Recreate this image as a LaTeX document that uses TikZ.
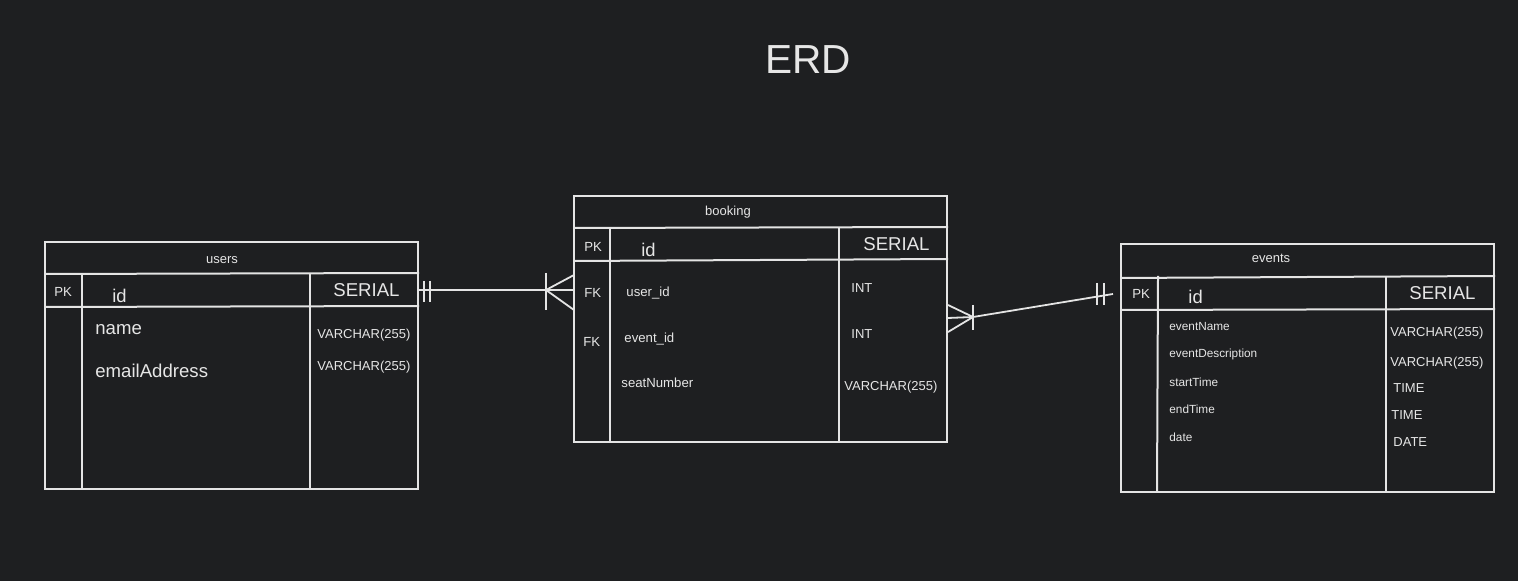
\documentclass[tikz,border=0pt]{standalone}
\usepackage{fontspec}
\setmainfont{Liberation Sans}
\usetikzlibrary{fit}
\definecolor{bgc}{HTML}{1E1F21}
\definecolor{lnc}{HTML}{E4E4E4}
\definecolor{txc}{HTML}{E6E6E6}
\tikzset{
  tbl/.style={draw=lnc, line width=1pt, inner sep=0pt},
  ln/.style={draw=lnc, line width=1pt},
  conn/.style={draw=lnc, line width=0.9pt},
  tx/.style={text=txc, inner sep=0pt, anchor=base west},
  txc/.style={text=txc, inner sep=0pt, anchor=base},
  fhead/.style={font=\fontsize{6.5}{7}\selectfont},
  fpk/.style={font=\fontsize{6.6}{7}\selectfont},
  fid/.style={font=\fontsize{9.2}{10}\selectfont},
  fser/.style={font=\fontsize{9.3}{10}\selectfont},
  fname/.style={font=\fontsize{9.3}{10}\selectfont},
  fsm/.style={font=\fontsize{6.6}{7}\selectfont},
  fev/.style={font=\fontsize{5.9}{6.5}\selectfont},
  ftype/.style={font=\fontsize{6.5}{7}\selectfont},
}
\begin{document}
\begin{tikzpicture}[x=0.5pt, y=-0.5pt]
\fill[bgc] (0,0) rectangle (1518,581);
\useasboundingbox (0,0) rectangle (1518,581);

% title
\node[txc, font=\fontsize{20.3}{22}\selectfont] (title) at (808,74) {ERD};

% ---------- users ----------
\node[tbl, fit={(45,242) (418,489)}] (users) {};
\draw[ln] (45,274) -- (419,273);
\draw[ln] (45,307) -- (419,306);
\draw[ln] (82,274) -- (82,489);
\draw[ln] (310,273) -- (310,489);
\node[txc, fhead] (usersT) at (222,264) {users};
\node[tx, fpk] (uPK) at (54,297) {PK};
\node[tx, fid] (uid) at (112,303) {id};
\node[tx, fser] (user) at (333,297) {SERIAL};
\node[tx, fname] (uname) at (95,335) {name};
\node[tx, fname] (umail) at (95,378) {emailAddress};
\node[tx, ftype] (ut1) at (317,339) {VARCHAR(255)};
\node[tx, ftype] (ut2) at (317,371) {VARCHAR(255)};

% ---------- booking ----------
\node[tbl, fit={(574,196) (947,442)}] (booking) {};
\draw[ln] (574,228) -- (948,227);
\draw[ln] (574,261) -- (948,259);
\draw[ln] (610,228) -- (610,442);
\draw[ln] (839,227) -- (839,442);
\node[txc, fhead] (bookingT) at (728,216) {booking};
\node[tx, fpk] (bPK) at (584,252) {PK};
\node[tx, fid] (bid) at (641,257) {id};
\node[tx, fser] (bser) at (863,251) {SERIAL};
\node[tx, fsm] (bFK1) at (584,298) {FK};
\node[tx, fsm] (buid) at (626,297) {user\_id};
\node[tx, fsm] (bFK2) at (583,347) {FK};
\node[tx, fsm] (beid) at (624,343) {event\_id};
\node[tx, fsm] (bseat) at (621,388) {seatNumber};
\node[tx, ftype] (bt1) at (851,293) {INT};
\node[tx, ftype] (bt2) at (851,339) {INT};
\node[tx, ftype] (bt3) at (844,391) {VARCHAR(255)};

% ---------- events ----------
\node[tbl, fit={(1121,244) (1494,492)}] (events) {};
\draw[ln] (1121,278) -- (1495,276);
\draw[ln] (1121,310) -- (1495,309);
\draw[ln] (1158,276) -- (1157,492);
\draw[ln] (1386,276) -- (1386,492);
\node[txc, fhead] (eventsT) at (1271,263) {events};
\node[tx, fpk] (ePK) at (1132,299) {PK};
\node[tx, fid] (eid) at (1188,304) {id};
\node[tx, fser] (eser) at (1409,300) {SERIAL};
\node[tx, fev] (en1) at (1169,331) {eventName};
\node[tx, fev] (en2) at (1169,358) {eventDescription};
\node[tx, fev] (en3) at (1169,387) {startTime};
\node[tx, fev] (en4) at (1169,414) {endTime};
\node[tx, fev] (en5) at (1169,442) {date};
\node[tx, ftype] (et1) at (1390,337) {VARCHAR(255)};
\node[tx, ftype] (et2) at (1390,367) {VARCHAR(255)};
\node[tx, ftype] (et3) at (1393,393) {TIME};
\node[tx, ftype] (et4) at (1391,420) {TIME};
\node[tx, ftype] (et5) at (1393,447) {DATE};

% ---------- connector users -- booking ----------
\coordinate (ua) at (users.east |- 0,290);
\coordinate (ba) at (booking.west |- 0,290);
\coordinate (cf1) at (546,290);
\draw[conn] (ua) -- (ba);
\draw[conn] (424,281) -- (424,302);
\draw[conn] (430,281) -- (430,302);
\draw[conn] (546,273) -- (546,310);
\draw[conn] (cf1) -- (574,275);
\draw[conn] (cf1) -- (574,310);

% ---------- connector booking -- events ----------
\coordinate (bb) at (booking.east |- 0,318);
\coordinate (cf2) at (973,317);
\coordinate (eb) at (1113,294);
\draw[conn] (bb) -- (cf2) -- (eb);
\draw[conn] (cf2) -- (948,305);
\draw[conn] (cf2) -- (948,332);
\draw[conn] (973,305) -- (973,330);
\draw[conn] (1097,283) -- (1097,305);
\draw[conn] (1104,283) -- (1104,305);
\end{tikzpicture}
\end{document}
